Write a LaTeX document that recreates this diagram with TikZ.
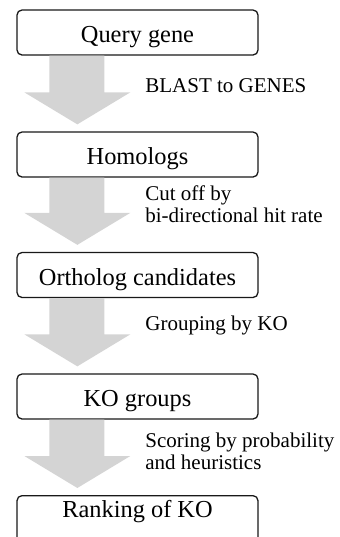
\documentclass[tikz,border=0pt]{standalone}
\usepackage{fontspec}
\setmainfont{Liberation Serif}
\usetikzlibrary{calc}
\begin{document}
\begin{tikzpicture}[x=0.5pt, y=0.5pt,
  stepbox/.style={draw=black!90, line width=0.65pt, rounded corners=2.5pt, minimum width=120.5pt, minimum height=22.5pt, text height=10.5pt, text depth=0.5pt, font=\fontsize{12.2}{14}\selectfont},
  steplabel/.style={anchor=base west, inner sep=0pt, align=left, font=\fontsize{10.5}{11}\selectfont},
  flowarrow/.style={fill=black!17}]
\useasboundingbox (0,0) rectangle (340,-537);
\clip (0,0) rectangle (340,-537);
% boxes
\node[stepbox] (query) at (137.5,-32.5) {Query gene};
\node[stepbox] (homol) at (137.5,-154.5) {Homologs};
\node[stepbox] (orth) at (137.5,-275) {Ortholog candidates};
\node[stepbox] (kog) at (137.5,-396.5) {KO groups};
\node[stepbox, anchor=north, minimum height=0pt, inner ysep=3pt, text height=8pt, text depth=30pt] (rank) at (137.5,-495) {Ranking of KO};
% block arrows
\foreach \a/\b in {query/homol, orth/kog, homol/orth, kog/rank}
  \fill[flowarrow] ($(\a.south west)+(33,0)$) -- ($(\a.south west)+(88,0)$) -- ($(\b.north west)+(88,39)$) -- ($(\b.north west)+(114,39)$) -- ($(\b.north west)+(61,7)$) -- ($(\b.north west)+(8,39)$) -- ($(\b.north west)+(33,39)$) -- cycle;
% labels (base = last line)
\node[steplabel] (lblast) at (145,-92) {BLAST to GENES};
\node[steplabel] (lcut) at (145,-222) {Cut off by\\bi-directional hit rate};
\node[steplabel] (lgroup) at (145,-330) {Grouping by KO};
\node[steplabel] (lscore) at (145,-469) {Scoring by probability\\and heuristics};
\end{tikzpicture}
\end{document}
